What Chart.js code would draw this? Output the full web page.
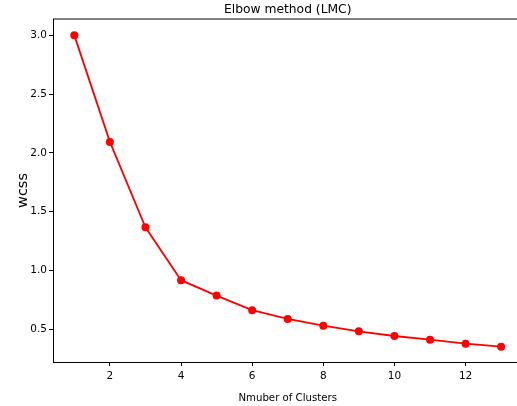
<!DOCTYPE html>
<html>
<head>
<meta charset="utf-8">
<script src="https://cdn.jsdelivr.net/npm/chart.js@4/dist/chart.umd.min.js"></script>
<style>
  html, body { margin: 0; padding: 0; background: #fff; }
  #wrap { width: 517px; height: 406px; }
</style>
</head>
<body>
<div id="wrap"><canvas id="graphic" width="517" height="406"></canvas></div>
<script>
// numero de clusters y su wcss
var clusters = [1, 2, 3, 4, 5, 6, 7, 8, 9, 10, 11, 12, 13];
var wcss = [3.0, 2.094, 1.367, 0.918, 0.787, 0.663, 0.588, 0.531, 0.483, 0.443, 0.412, 0.378, 0.352];
var xTicks = [2, 4, 6, 8, 10, 12];
var yTicks = [0.5, 1.0, 1.5, 2.0, 2.5, 3.0];

var FONT = "'DejaVu Sans', sans-serif";

// titulos dibujados a mano, como matplotlib
var textos = {
  id: 'textos',
  afterDraw: function (chart) {
    var c = chart.ctx;
    var area = chart.chartArea;
    var x = chart.scales.x;
    var mid = x.getPixelForValue(7);
    c.save();
    // borde de arriba (y el final del eje x, que sigue hasta el borde)
    c.strokeStyle = '#000';
    c.lineWidth = 1;
    c.beginPath();
    c.moveTo(area.left, 19);
    c.lineTo(517, 19);
    c.moveTo(area.right - 1, Math.round(area.bottom) + 0.5);
    c.lineTo(517, Math.round(area.bottom) + 0.5);
    c.stroke();

    c.fillStyle = '#000';
    c.textAlign = 'center';
    c.textBaseline = 'alphabetic';
    c.font = '12.3px ' + FONT;
    c.fillText('Elbow method (LMC)', mid, 13);

    c.font = '10.2px ' + FONT;
    c.fillText('Nmuber of Clusters', mid, 401);

    c.translate(27, (area.top + area.bottom) / 2);
    c.rotate(-Math.PI / 2);
    c.font = '14.5px ' + FONT;
    c.fillText('wcss', 0, 0);
    c.restore();
  }
};

var ctx = document.getElementById('graphic').getContext('2d');

var datos = {
  datasets: [{
    label: 'wcss',
    data: clusters.map(function (k, i) { return { x: k, y: wcss[i] }; }),
    borderColor: '#ff0000',
    backgroundColor: '#ff0000',
    borderWidth: 1.8,
    pointRadius: 4,
    pointHoverRadius: 4,
    pointBorderWidth: 0,
    tension: 0
  }]
};

var opciones = {
  responsive: false,
  animation: false,
  showLine: true,
  layout: { autoPadding: false, padding: { top: 19, left: 0, right: 2, bottom: 0 } },
  plugins: {
    legend: { display: false },
    tooltip: { enabled: false }
  },
  scales: {
    x: {
      type: 'linear',
      min: 0.4,
      max: 13.39,
      afterFit: function (s) { s.height = 44; },
      afterBuildTicks: function (s) { s.ticks = xTicks.map(function (v) { return { value: v }; }); },
      grid: { drawOnChartArea: false, drawTicks: true, tickLength: 4, tickColor: '#000' },
      border: { display: true, color: '#000', width: 1 },
      ticks: {
        color: '#000',
        padding: 4,
        maxRotation: 0,
        font: { family: FONT, size: 10.5 },
        callback: function (v) { return String(v); }
      }
    },
    y: {
      type: 'linear',
      min: 0.222,
      max: 3.139,
      afterFit: function (s) { s.width = 53; },
      afterBuildTicks: function (s) { s.ticks = yTicks.map(function (v) { return { value: v }; }); },
      grid: { drawOnChartArea: false, drawTicks: true, tickLength: 4, tickColor: '#000' },
      border: { display: true, color: '#000', width: 1 },
      ticks: {
        color: '#000',
        padding: 2,
        font: { family: FONT, size: 10.5 },
        callback: function (v) { return v.toFixed(1); }
      }
    }
  }
};

var miGrafico = new Chart(ctx, {
  type: 'scatter',
  data: datos,
  options: opciones,
  plugins: [textos]
});
</script>
</body>
</html>
